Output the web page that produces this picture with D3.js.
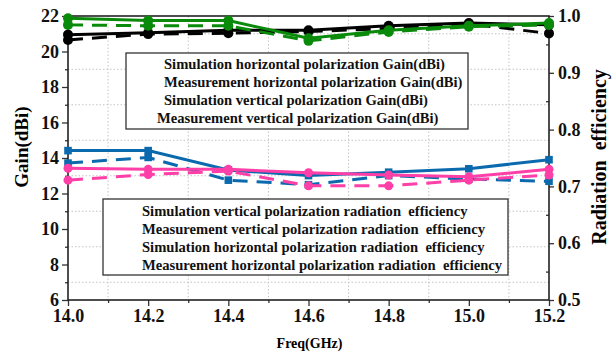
<!DOCTYPE html>
<html>
<head>
<meta charset="utf-8">
<script src="https://cdn.jsdelivr.net/npm/d3@7"></script>
<style>
  body { margin: 0; background: #fff; }
  svg { display: block; font-family: "Liberation Serif", "Times New Roman", serif; font-weight: bold; }
</style>
</head>
<body>
<div class="canvas"></div>
<script>
// data
const freqs = [14.0, 14.2, 14.4, 14.6, 14.8, 15.0, 15.2];
const gainTicks = [6, 8, 10, 12, 14, 16, 18, 20, 22];
const effTicks = [0.5, 0.6, 0.7, 0.8, 0.9, 1.0];
const freqTicks = [14.0, 14.2, 14.4, 14.6, 14.8, 15.0, 15.2];

// gain (left axis)
const simHGain = [20.95, 21.05, 21.2, 21.2, 21.45, 21.6, 21.5];
const measHGain = [20.65, 20.98, 21.03, 21.12, 21.3, 21.55, 21.02];
const simVGain = [21.87, 21.74, 21.74, 20.75, 21.2, 21.45, 21.6];
const measVGain = [21.5, 21.45, 21.45, 20.6, 21.1, 21.4, 21.5];

// radiation efficiency (right axis)
const simVEff = [0.763, 0.763, 0.729, 0.719, 0.725, 0.731, 0.747];
const measVEff = [0.741, 0.751, 0.711, 0.703, 0.719, 0.713, 0.709];
const simHEff = [0.732, 0.730, 0.730, 0.724, 0.720, 0.717, 0.730];
const measHEff = [0.711, 0.721, 0.727, 0.701, 0.701, 0.711, 0.720];

const gainLegend = [
  'Simulation horizontal polarization Gain(dBi)',
  'Measurement horizontal polarization Gain(dBi)',
  'Simulation vertical polarization Gain(dBi)',
  'Measurement vertical polarization Gain(dBi)'
];
const effLegend = [
  'Simulation vertical polarization radiation  efficiency',
  'Measurement vertical polarization radiation  efficiency',
  'Simulation horizontal polarization radiation  efficiency',
  'Measurement horizontal polarization radiation  efficiency'
];

const W = 616, H = 354;
const margin = {top: 16, right: 67, bottom: 54, left: 68};
const innerW = W - margin.left - margin.right;
const innerH = H - margin.top - margin.bottom;
const FONT = '"Liberation Serif", "Times New Roman", serif';

const svg = d3.select('.canvas').append('svg')
  .attr('width', W)
  .attr('height', H);

const g = svg.append('g').attr('transform', `translate(${margin.left},${margin.top})`);

const x = d3.scaleLinear().domain([14.0, 15.2]).range([0, innerW]);
const yL = d3.scaleLinear().domain([6, 22]).range([innerH, 0]);
const yR = d3.scaleLinear().domain([0.5, 1.0]).range([innerH, 0]);

// dotted grid on the odd (minor) positions
const gridX = d3.range(14.1, 15.2, 0.2);
const gridY = d3.range(7, 22, 2);
g.selectAll('.gx').data(gridX).enter().append('line')
  .attr('x1', d => x(d)).attr('x2', d => x(d))
  .attr('y1', 0).attr('y2', innerH)
  .attr('stroke', '#c4c4c4').attr('stroke-width', 1).attr('stroke-dasharray', '1.5,2');
g.selectAll('.gy').data(gridY).enter().append('line')
  .attr('x1', 0).attr('x2', innerW)
  .attr('y1', d => yL(d)).attr('y2', d => yL(d))
  .attr('stroke', '#c4c4c4').attr('stroke-width', 1).attr('stroke-dasharray', '1.5,2');

// axes (d3 puts sans-serif on the axis group, so override it)
const styleAxis = sel => {
  sel.attr('font-family', FONT).attr('font-size', 18).attr('font-weight', 'bold');
  sel.select('.domain').remove();
  sel.selectAll('line').attr('stroke', '#333').attr('stroke-width', 1.3);
  sel.selectAll('text').attr('fill', '#111').style('font-family', FONT);
};

g.append('g').attr('transform', `translate(0,${innerH})`)
  .call(d3.axisBottom(x).tickValues(freqTicks).tickFormat(d3.format('.1f')).tickSize(6).tickPadding(3))
  .call(styleAxis);
g.append('g').attr('transform', `translate(0,${innerH})`)
  .call(d3.axisBottom(x).tickValues(gridX).tickFormat('').tickSize(3))
  .call(styleAxis);

g.append('g')
  .call(d3.axisLeft(yL).tickValues(gainTicks).tickFormat(d3.format('d')).tickSize(6).tickPadding(3))
  .call(styleAxis);
g.append('g')
  .call(d3.axisLeft(yL).tickValues(gridY).tickFormat('').tickSize(3))
  .call(styleAxis);

g.append('g').attr('transform', `translate(${innerW},0)`)
  .call(d3.axisRight(yR).tickValues(effTicks).tickFormat(d3.format('.1f')).tickSize(5).tickPadding(4))
  .call(styleAxis);
g.append('g').attr('transform', `translate(${innerW},0)`)
  .call(d3.axisLeft(yR).tickValues(d3.range(0.55, 1.0, 0.1)).tickFormat('').tickSize(3))
  .call(styleAxis);

// frame
g.append('rect')
  .attr('width', innerW).attr('height', innerH)
  .attr('fill', 'none').attr('stroke', '#222').attr('stroke-width', 1.6);

// series
const series = [
  {vals: simHGain, y: yL, color: '#000000', dash: null, marker: 'circle', r: 5},
  {vals: measHGain, y: yL, color: '#000000', dash: '15,9', marker: 'circle', r: 5},
  {vals: simVGain, y: yL, color: '#0a8a0a', dash: null, marker: 'circle', r: 5},
  {vals: measVGain, y: yL, color: '#0a8a0a', dash: '15,9', marker: 'circle', r: 5},
  {vals: simVEff, y: yR, color: '#0b6aad', dash: null, marker: 'square', r: 3.8},
  {vals: measVEff, y: yR, color: '#0b6aad', dash: '15,9', marker: 'square', r: 3.8},
  {vals: simHEff, y: yR, color: '#ff3fa8', dash: null, marker: 'circle', r: 4.5},
  {vals: measHEff, y: yR, color: '#ff3fa8', dash: '15,9', marker: 'circle', r: 4.5}
];

series.forEach(s => {
  const pts = freqs.map((f, i) => ({f, v: s.vals[i]}));
  const line = d3.line().x(d => x(d.f)).y(d => s.y(d.v));
  g.append('path').datum(pts)
    .attr('d', line)
    .attr('fill', 'none')
    .attr('stroke', s.color)
    .attr('stroke-width', 3)
    .attr('stroke-dasharray', s.dash);
  if (s.marker === 'circle') {
    g.selectAll(null).data(pts).enter().append('circle')
      .attr('cx', d => x(d.f)).attr('cy', d => s.y(d.v))
      .attr('r', s.r).attr('fill', s.color);
  } else {
    g.selectAll(null).data(pts).enter().append('rect')
      .attr('x', d => x(d.f) - s.r).attr('y', d => s.y(d.v) - s.r)
      .attr('width', s.r * 2).attr('height', s.r * 2).attr('fill', s.color);
  }
});

// legends
const legend = (lines, bx, by, bw, bh, tx, ty, step, fs, shifts) => {
  const lg = svg.append('g');
  lg.append('rect').attr('x', bx).attr('y', by).attr('width', bw).attr('height', bh)
    .attr('fill', '#fff').attr('stroke', '#333').attr('stroke-width', 1.3);
  lg.selectAll('text').data(lines).enter().append('text')
    .attr('x', (d, i) => tx + (shifts ? shifts[i] : 0))
    .attr('y', (d, i) => ty + i * step)
    .style('font-size', fs + 'px')
    .style('white-space', 'pre')
    .attr('fill', '#111')
    .text(d => d);
};
legend(gainLegend, 126, 53, 342, 76, 164, 69, 18, 14.6, [0, 0, 0, -7]);
legend(effLegend, 103, 199, 405, 76, 142, 216, 18, 14.6, null);

// axis titles
svg.append('text')
  .attr('transform', `translate(28,${margin.top + innerH / 2 - 11}) rotate(-90)`)
  .attr('text-anchor', 'middle')
  .style('font-size', '19px')
  .text('Gain(dBi)');
svg.append('text')
  .attr('transform', `translate(606,${margin.top + innerH / 2 - 1}) rotate(-90)`)
  .attr('text-anchor', 'middle')
  .style('font-size', '20px')
  .style('white-space', 'pre')
  .text('Radiation  efficiency');
svg.append('text')
  .attr('x', margin.left + innerW / 2 + 1)
  .attr('y', 348)
  .attr('text-anchor', 'middle')
  .style('font-size', '14px')
  .text('Freq(GHz)');
</script>
</body>
</html>
